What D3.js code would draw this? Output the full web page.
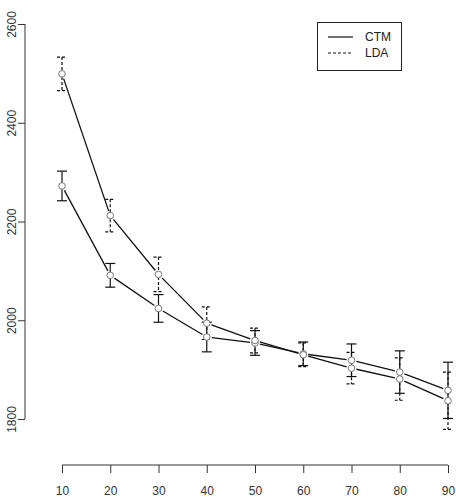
<!DOCTYPE html>
<html>
<head>
<meta charset="utf-8">
<script src="https://cdn.jsdelivr.net/npm/d3@7"></script>
<style>
  body { margin: 0; background: #ffffff; }
  text { font-family: "Liberation Sans", Arial, sans-serif; fill: #222; }
</style>
</head>
<body>
<div id="chart"></div>
<script>
const topics = [10, 20, 30, 40, 50, 60, 70, 80, 90];
const ctmMean = [2272, 2091, 2024, 1966, 1954, 1932, 1919, 1895, 1858];
const ctmErr  = [30, 24, 28, 30, 25, 24, 33, 43, 57];
const ldaMean = [2499, 2212, 2093, 1994, 1959, 1930, 1903, 1881, 1837];
const ldaErr  = [34, 33, 35, 33, 25, 24, 32, 43, 58];
const xTicks = [10, 20, 30, 40, 50, 60, 70, 80, 90];
const yTicks = [1800, 2000, 2200, 2400, 2600];

const width = 456, height = 498;

const svg = d3.select('#chart')
    .append('svg')
    .attr('width', width)
    .attr('height', height);

const x = d3.scaleLinear().domain([10, 90]).range([62, 448]);
const y = d3.scaleLinear().domain([1800, 2600]).range([419, 24]);

// axes, R style: line only between first and last tick
const xAxis = svg.append('g')
    .attr('transform', 'translate(0,465)')
    .call(d3.axisBottom(x).tickValues(xTicks).tickFormat(d3.format('d'))
        .tickSize(8).tickPadding(13).tickSizeOuter(0));
xAxis.select('.domain').attr('d', `M${x(10)},0H${x(90)}`);

const yAxis = svg.append('g')
    .attr('transform', 'translate(25,0)')
    .call(d3.axisLeft(y).tickValues(yTicks).tickFormat(d3.format('d'))
        .tickSize(7).tickSizeOuter(0));
yAxis.select('.domain').attr('d', `M0,${y(1800)}V${y(2600)}`);
yAxis.selectAll('.tick text')
    .attr('transform', 'rotate(-90)')
    .attr('x', 0)
    .attr('y', -9)
    .attr('dy', 0)
    .attr('text-anchor', 'middle');

svg.selectAll('.domain, .tick line').attr('stroke', '#333');
svg.selectAll('.tick text').style('font-size', '12px').style('fill', '#333');

// error bars
function errorBars(means, errs, dash) {
    const g = svg.append('g')
        .attr('stroke', '#111')
        .attr('stroke-width', 1.2)
        .attr('stroke-dasharray', dash);
    topics.forEach((t, i) => {
        const cx = x(t);
        const top = y(means[i] + errs[i]);
        const bot = y(means[i] - errs[i]);
        g.append('line').attr('x1', cx).attr('x2', cx).attr('y1', top).attr('y2', bot);
        g.append('line').attr('x1', cx - 5).attr('x2', cx + 5).attr('y1', top).attr('y2', top);
        g.append('line').attr('x1', cx - 5).attr('x2', cx + 5).attr('y1', bot).attr('y2', bot);
    });
}

// lines with gaps round the points (type = "b")
function gappedLine(means) {
    const g = svg.append('g').attr('stroke', '#111').attr('stroke-width', 1.3);
    for (let i = 0; i < topics.length - 1; i++) {
        const x1 = x(topics[i]), y1 = y(means[i]);
        const x2 = x(topics[i + 1]), y2 = y(means[i + 1]);
        const len = Math.hypot(x2 - x1, y2 - y1);
        const gap = 5;
        if (len <= 2 * gap) continue;
        const ux = (x2 - x1) / len, uy = (y2 - y1) / len;
        g.append('line')
            .attr('x1', x1 + ux * gap).attr('y1', y1 + uy * gap)
            .attr('x2', x2 - ux * gap).attr('y2', y2 - uy * gap);
    }
}

function points(means) {
    svg.append('g')
        .selectAll('circle')
        .data(means)
        .enter()
        .append('circle')
        .attr('cx', (d, i) => x(topics[i]))
        .attr('cy', d => y(d))
        .attr('r', 3.3)
        .attr('fill', '#fff')
        .attr('stroke', '#777')
        .attr('stroke-width', 1);
}

errorBars(ctmMean, ctmErr, null);
errorBars(ldaMean, ldaErr, '3,2');
gappedLine(ctmMean);
gappedLine(ldaMean);
points(ctmMean);
points(ldaMean);

// legend
const legend = svg.append('g');
legend.append('rect')
    .attr('x', 317.5).attr('y', 22.5)
    .attr('width', 84).attr('height', 48)
    .attr('fill', 'none').attr('stroke', '#222');
const items = [{ name: 'CTM', dash: null }, { name: 'LDA', dash: '3,2' }];
items.forEach((d, i) => {
    const ly = 37 + i * 16;
    legend.append('line')
        .attr('x1', 328).attr('x2', 353)
        .attr('y1', ly).attr('y2', ly)
        .attr('stroke', '#111').attr('stroke-width', 1.2)
        .attr('stroke-dasharray', d.dash);
    legend.append('text')
        .attr('x', 365).attr('y', ly + 4)
        .style('font-size', '12px')
        .text(d.name);
});
</script>
</body>
</html>
